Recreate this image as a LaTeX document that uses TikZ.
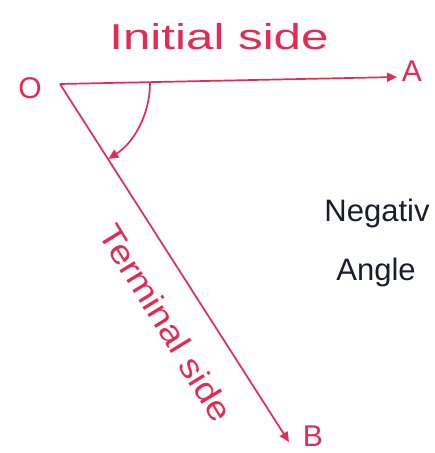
\documentclass[tikz,border=0pt]{standalone}
\usepackage{fontspec}
\setmainfont{Liberation Sans}
\usetikzlibrary{arrows.meta,calc}
\definecolor{ink}{RGB}{226,44,86}
\definecolor{pen}{RGB}{25,30,45}
\begin{document}
\begin{tikzpicture}[x=1pt,y=-1pt,
  line/.style={draw=ink,line width=1.7pt,-{Triangle[length=10pt,width=9pt]}},
  redlbl/.style={text=ink,font=\fontsize{30}{32}\selectfont,inner sep=0pt},
  bigred/.style={text=ink,font=\fontsize{36}{38}\selectfont,inner sep=0pt},
  blklbl/.style={text=pen,font=\fontsize{31}{33}\selectfont,inner sep=0pt}]
\useasboundingbox[fill=white] (0,0) rectangle (435,453);
\coordinate (O) at (60,84);
\coordinate (A) at (397,77);
\coordinate (B) at (289,442);
\coordinate (S) at (150,83);
\node[redlbl] (lo) at (30,88) {O};
\node[redlbl] (la) at (412,71) {A};
\node[redlbl] (lb) at (313,436) {B};
\draw[line] (O) -- (A);
\draw[line] (O) -- (B);
\draw[line] (S) arc[start angle=0,end angle=57.5,radius=90];
\node[bigred] (init) at (219,37) {\scalebox{1.37}[1]{Initial side}};
\node[bigred,font=\fontsize{33}{35}\selectfont,rotate=-58.5] (term) at (166,323) {\scalebox{1.15}[1]{Terminal side}};
\node[blklbl] (neg) at (377,213) {Negativ};
\node[blklbl] (ang) at (376,272) {Angle};
\end{tikzpicture}
\end{document}
